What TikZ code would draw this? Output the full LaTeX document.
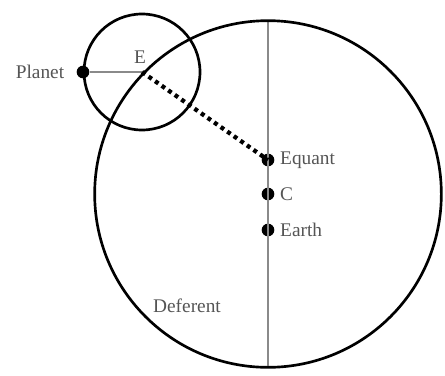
\documentclass[tikz,border=0pt]{standalone}
\usepackage{fontspec}
\setmainfont{Liberation Serif}
\usepackage{xcolor}
\definecolor{LabelGray}{HTML}{555555}
\definecolor{AxisGray}{HTML}{8A8A8A}
\usetikzlibrary{positioning}

\begin{document}
\begin{tikzpicture}[
  x=0.75pt,y=-0.75pt,
  dot/.style={circle,fill=black,inner sep=0pt,minimum size=9.5pt},
  lbl/.style={font=\fontsize{14.5}{16}\selectfont,text=LabelGray,inner sep=1pt},
  orbit/.style={draw=black,line width=2pt},
  axis/.style={draw=AxisGray,line width=0.8pt},
  sight/.style={draw=black,line width=3.2pt,dash pattern=on 3pt off 3pt}
]
  \useasboundingbox (0,0) rectangle (445,375);
  % points
  \coordinate (c) at (268,194);
  \coordinate (e) at (142,72);
  \coordinate (top) at (268,21);
  \coordinate (bot) at (268,367);
  \node[dot] (equant) at (268,160) {};
  \node[dot] (centre) at (268,194) {};
  \node[dot] (earth) at (268,230) {};
  \node[dot] (planet) at (83,72) {};
  % circles and lines
  \draw[axis] (top) -- (bot);
  \draw[orbit] (c) circle (130pt);
  \draw[orbit] (e) circle (43.5pt);
  \draw[draw=AxisGray,line width=1.2pt] (planet) -- (e);
  \draw[sight] (e) -- (equant.center);
  % labels
  \node[lbl,left=8pt of planet] (lplanet) {Planet};
  \node[lbl] (le) at (140,57) {E};
  \node[lbl,right=3pt of equant] (lequant) {Equant};
  \node[lbl,right=3pt of centre] (lcentre) {C};
  \node[lbl,right=3pt of earth] (learth) {Earth};
  \node[lbl] (ldeferent) at (187,306) {Deferent};
\end{tikzpicture}
\end{document}
